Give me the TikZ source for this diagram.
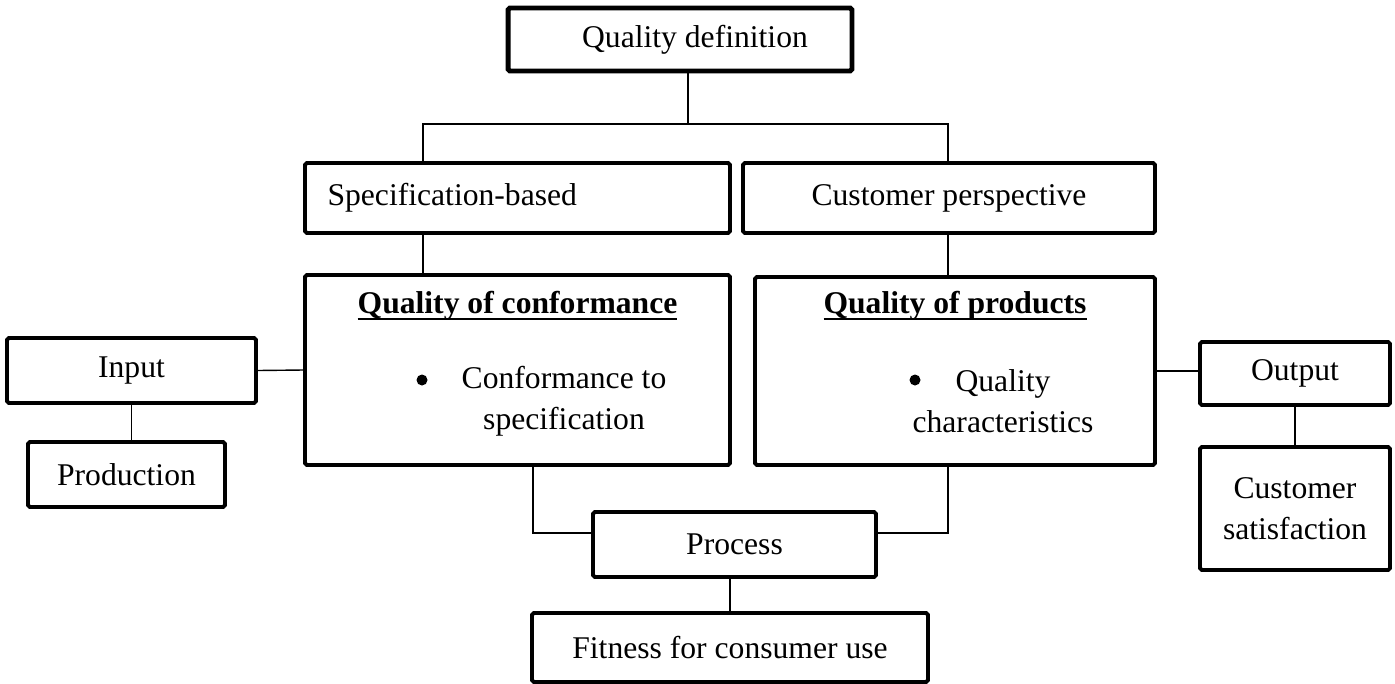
\documentclass[tikz,border=0pt]{standalone}
\usepackage{fontspec}
\setmainfont{Liberation Serif}
% Word-style underline, close under the baseline
\newcommand\titleline[1]{\setbox0=\hbox{#1}\rlap{\rule[-3.4pt]{\wd0}{1.1pt}}\box0}

\begin{document}
\begin{tikzpicture}[x=0.02cm,y=-0.02cm,
  box/.style={draw,line width=2.2pt,rounded corners=1pt,inner sep=0pt},
  dot/.style={circle,fill,inner sep=0pt,minimum size=0.22cm},
  link/.style={line width=0.8pt}]
\fontsize{18}{23.5}\selectfont
\useasboundingbox (0,0) rectangle (1395,683);
% Top of the tree
\node[box,line width=2.8pt,minimum width=6.88cm,minimum height=1.26cm] (qdef) at (680,39.5) {\hspace*{0.6cm}Quality definition};
\node[box,minimum width=8.5cm,minimum height=1.4cm,text width=7.6cm,align=left] (spec) at (517.5,198) {Specification-based};
\node[box,minimum width=8.24cm,minimum height=1.4cm] (cust) at (949,198) {Customer perspective};
% The two views of quality
\node[box,minimum width=8.5cm,minimum height=3.8cm] (qoc) at (517.5,370) {};
\node[box,minimum width=8.0cm,minimum height=3.76cm] (qop) at (955,371) {};
\node (qoctitle) at (517.5,306) {\bfseries\titleline{Quality of conformance}};
\node[dot] (qocdot) at (422,380) {};
\node[align=center] (qoctext) at (564,401) {Conformance to\\specification};
\node (qoptitle) at (955,306) {\bfseries\titleline{Quality of products}};
\node[dot] (qopdot) at (915,380) {};
\node[align=center] (qoptext) at (1003,401) {Quality\\characteristics};
% Left and right sides
\node[box,minimum width=4.98cm,minimum height=1.3cm] (input) at (131.5,370.5) {Input};
\node[box,minimum width=3.94cm,minimum height=1.3cm] (prod) at (126.5,474.5) {Production};
\node[box,minimum width=3.8cm,minimum height=1.26cm] (output) at (1295,373.5) {Output};
\node[box,minimum width=3.8cm,minimum height=2.46cm,align=center] (csat) at (1295,508.5) {Customer\\satisfaction};
% Bottom
\node[box,minimum width=5.66cm,minimum height=1.3cm] (proc) at (734.5,544.5) {Process};
\node[box,minimum width=7.92cm,minimum height=1.38cm] (fit) at (730,647.5) {Fitness for consumer use};

\coordinate (hub) at (688,124);
\coordinate (jl) at (423,124);
\coordinate (jr) at (948,124);
\coordinate (el) at (533,533);
\coordinate (er) at (948,533);

\draw[link] (qdef.south -| hub) -- (hub);
\draw[link] (jl |- spec.north) -- (jl) -- (jr) -- (jr |- cust.north);
\draw[link] (jl |- spec.south) -- (jl |- qoc.north);
\draw[link] (jr |- cust.south) -- (jr |- qop.north);
\draw[link] (input.east) -- (qoc.west);
\draw[link] (input.south) -- (input.south |- prod.north);
\draw[link] (qop.east) -- (qop.east -| output.west);
\draw[link] (output.south) -- (output.south |- csat.north);
\draw[link] (el |- qoc.south) -- (el) -- (el -| proc.west);
\draw[link] (er |- qop.south) -- (er) -- (er -| proc.east);
\draw[link] (fit.north |- proc.south) -- (fit.north);
\end{tikzpicture}
\end{document}
